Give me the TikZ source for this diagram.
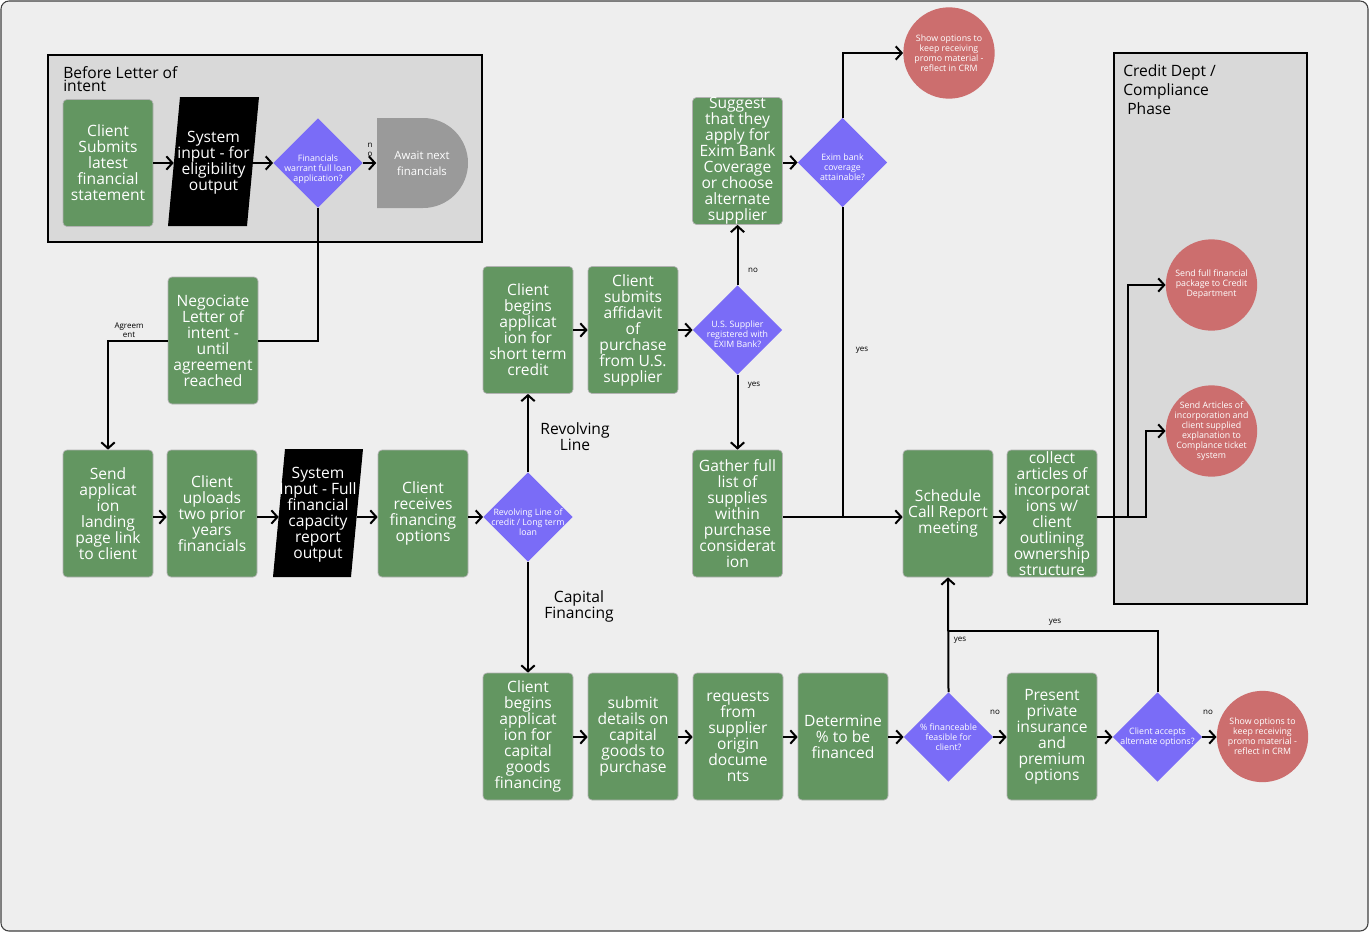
\documentclass[tikz,border=0pt]{standalone}
\usepackage{fontspec}
\setmainfont{Open Sans}
\usetikzlibrary{shapes.geometric,arrows.meta,calc}
\definecolor{bgc}{HTML}{EEEEEE}
\definecolor{grp}{HTML}{D9D9D9}
\definecolor{grn}{HTML}{639661}
\definecolor{prp}{HTML}{7A6CF7}
\definecolor{rdc}{HTML}{CC6E6E}
\definecolor{gry}{HTML}{9A9A9A}
\newcommand\fntbox{\fontsize{11.7}{12}\selectfont}
\newcommand\fntsml{\fontsize{6.6}{7.5}\selectfont}
\newcommand\fntlbl{\fontsize{6}{7}\selectfont}
\newcommand\fntawt{\fontsize{8.5}{12}\selectfont}
\begin{document}
\begin{tikzpicture}[x=0.75pt,y=-0.75pt,
  gbox/.style={draw=black!30, line width=0.5pt, fill=grn, rounded corners=3pt,
    minimum width=67.5pt, minimum height=95.25pt, inner sep=0pt, text=white,
    align=center, font=\fntbox},
  ptxt/.style={minimum width=59pt, minimum height=96pt, inner sep=0pt, text=white,
    align=center, font=\fntbox},
  dia/.style={diamond, fill=prp, minimum width=67pt, minimum height=67pt, inner sep=0pt},
  dtxt/.style={text=white, align=center, font=\fntsml, inner sep=0pt},
  circ/.style={circle, fill=rdc, minimum size=68.5pt, inner sep=0pt},
  lbl/.style={text=black, font=\fntlbl, inner sep=0pt, align=center},
  bigl/.style={text=black, font=\fntbox, inner sep=0pt, align=center},
  grpbox/.style={draw=black, line width=0.8pt, fill=grp},
  conn/.style={draw=black, line width=1.5pt, -{Straight Barb[length=4.5pt,width=10pt]}},
  plain/.style={draw=black, line width=1.5pt},
]
\useasboundingbox (0,0) rectangle (1369,932);
\fill[white] (0,0) rectangle (1369,932);
\draw[draw=black!75, line width=0.8pt, fill=bgc, rounded corners=6pt] (1,1) rectangle (1368,931);

% groups
\draw[grpbox] (48,55) rectangle (482,242);
\node[font=\fontsize{11.7}{7.5}\selectfont, align=left, anchor=north west, inner sep=0pt] (gt1) at (63,66) {Before Letter of\\intent};
\draw[grpbox] (1114,53) rectangle (1307,604);
\node[font=\fontsize{11.7}{14.3}\selectfont, align=left, anchor=north west, inner sep=0pt] (gt2) at (1123,64) {Credit Dept /\\Compliance\\\ Phase};

\coordinate (rowA) at (0,517);
\coordinate (rowB) at (0,737);

% top group
\node[gbox] (b1) at (108,163) {Client\\Submits\\latest\\financial\\statement};
\fill[black] (180,97) -- (259,97) -- (247,226) -- (168,226) -- cycle;
\node[ptxt, minimum width=59.25pt] (p1) at (213.5,163) {System\\input - for\\eligibility\\output};
\node[dia] (d1) at (318,163) {};
\node[dtxt] (d1t) at (318,169) {Financials\\warrant full loan\\application?};
\fill[gry] (377,118) -- (423,118) arc[start angle=-90, end angle=90, radius=45] -- (377,208) -- cycle;
\node[minimum width=68.25pt, minimum height=67.5pt, inner sep=0pt, text=white, align=center, font=\fntawt] (aw) at (422,163) {Await next\\financials};

\node[gbox] (b2) at (213,340.5) {Negociate\\Letter of\\intent -\\until\\agreement\\reached};

% middle row
\node[gbox] (b3) at (108,513.5) {Send\\applicat\\ion\\landing\\page link\\to client};
\node[gbox] (b4) at (212,513.5) {Client\\uploads\\two prior\\years\\financials};
\fill[black] (285,449) -- (363,449) -- (351,577) -- (273,577) -- cycle;
\node[ptxt, minimum width=58.5pt] (p2) at (318,515) {System\\Input - Full\\financial\\capacity\\report\\output};
\node[gbox] (b5) at (423,513.5) {Client\\receives\\financing\\options};
\node[dia] (dr) at (528,517) {};
\node[dtxt] (drt) at (528,522) {Revolving Line of\\credit / Long term\\loan};

\node[gbox] (b6) at (528,330) {Client\\begins\\applicat\\ion for\\short term\\credit};
\node[gbox] (b7) at (633,330) {Client\\submits\\affidavit\\of\\purchase\\from U.S.\\supplier};
\node[dia] (dus) at (737.5,330) {};
\node[dtxt] (dust) at (737.5,334) {U.S. Supplier\\registered with\\EXIM Bank?};
\node[gbox] (b8) at (737.5,161) {Suggest\\that they\\apply for\\Exim Bank\\Coverage\\or choose\\alternate\\supplier};
\node[dia] (dex) at (842.5,162.5) {};
\node[dtxt] (dext) at (842.5,167) {Exim bank\\coverage\\attainable?};
\node[circ] (c1) at (949,53) {};
\node[dtxt] (c1t) at (c1) {Show options to\\keep receiving\\promo material -\\reflect in CRM};

\node[gbox] (b9) at (737.5,513.5) {Gather full\\list of\\supplies\\within\\purchase\\considerat\\ion};
\node[gbox] (b10) at (948,513.5) {Schedule\\Call Report\\meeting};
\node[gbox] (b11) at (1052,513.5) {collect\\articles of\\incorporat\\ions w/\\client\\outlining\\ownership\\structure};
\node[circ] (c2) at (1211.5,285) {};
\node[dtxt] (c2t) at (1211.5,284) {Send full financial\\package to Credit\\Department};
\node[circ] (c3) at (1211.5,431) {};
\node[dtxt] (c3t) at (c3) {Send Articles of\\incorporation and\\client supplied\\explanation to\\Complance ticket\\system};

% bottom row
\node[gbox] (b12) at (528,736.5) {Client\\begins\\applicat\\ion for\\capital\\goods\\financing};
\node[gbox] (b13) at (633,736.5) {submit\\details on\\capital\\goods to\\purchase};
\node[gbox] (b14) at (738,736.5) {requests\\from\\supplier\\origin\\docume\\nts};
\node[gbox] (b15) at (843,736.5) {Determine\\\% to be\\financed};
\node[dia] (dpc) at (948.5,737) {};
\node[dtxt] (dpct) at (dpc) {\% financeable\\feasible for\\client?};
\node[gbox] (b16) at (1052,736.5) {Present\\private\\insurance\\and\\premium\\options};
\node[dia] (dac) at (1157.5,737) {};
\node[dtxt] (dact) at (dac) {Client accepts\\alternate options?};
\node[circ] (c4) at (1262.5,736.5) {};
\node[dtxt] (c4t) at (c4) {Show options to\\keep receiving\\promo material -\\reflect in CRM};

% connectors
\draw[conn] (b1) -- (p1);
\draw[conn] (p1) -- (d1);
\draw[conn] (d1) -- (aw);
\draw[plain] (d1.south) |- (b2.east);
\draw[conn] (b2.west) -| (b3.north);

\draw[conn] (b3.east|-rowA) -- (b4.west|-rowA);
\draw[conn] (b4.east|-rowA) -- (p2.west|-rowA);
\draw[conn] (p2.east|-rowA) -- (b5.west|-rowA);
\draw[conn] (b5.east|-rowA) -- (dr.west);
\draw[conn] (dr.north) -- (b6.south);
\draw[conn] (dr.south) -- (b12.north);

\draw[conn] (b6) -- (b7);
\draw[conn] (b7) -- (dus);
\draw[conn] (dus.north) -- (b8.south);
\draw[conn] (dus.south) -- (b9.north);
\draw[conn] (b8.east|-dex) -- (dex.west);
\draw[conn] (dex.north) |- (c1.west);
\draw[plain] (dex.south) -- (dex.south|-rowA);
\draw[conn] (b9.east|-rowA) -- (b10.west|-rowA);
\draw[conn] (b10.east|-rowA) -- (b11.west|-rowA);
\draw[conn] (b11.east|-rowA) -- ++(31,0) |- (c2.west);
\draw[conn] (b11.east|-rowA) -- ++(49,0) |- (c3.west);

\draw[conn] (b12.east|-rowB) -- (b13.west|-rowB);
\draw[conn] (b13.east|-rowB) -- (b14.west|-rowB);
\draw[conn] (b14.east|-rowB) -- (b15.west|-rowB);
\draw[conn] (b15.east|-rowB) -- (dpc.west);
\draw[conn] (dpc.east) -- (b16.west|-rowB);
\draw[conn] (b16.east|-rowB) -- (dac.west);
\draw[conn] (dac.east) -- (c4.west|-rowB);
\draw[conn] (dpc.north) -- (b10.south);
\coordinate (jn) at (948.5,631);
\draw[plain] (dac.north) |- (jn);

% labels
\node[lbl] (l1) at (370,150) {n\\o};
\node[lbl] (l2) at (129,330) {Agreem\\ent};
\node[bigl] (l3) at (575,437) {Revolving\\Line};
\node[bigl] (l4) at (579,606) {Capital\\Financing};
\node[lbl] (l5) at (753,270) {no};
\node[lbl] (l6) at (754,385) {yes};
\node[lbl] (l7) at (862,350) {yes};
\node[lbl] (l8) at (960,640) {yes};
\node[lbl] (l9) at (1055,622) {yes};
\node[lbl] (l10) at (995,712) {no};
\node[lbl] (l11) at (1208,712) {no};
\end{tikzpicture}
\end{document}
